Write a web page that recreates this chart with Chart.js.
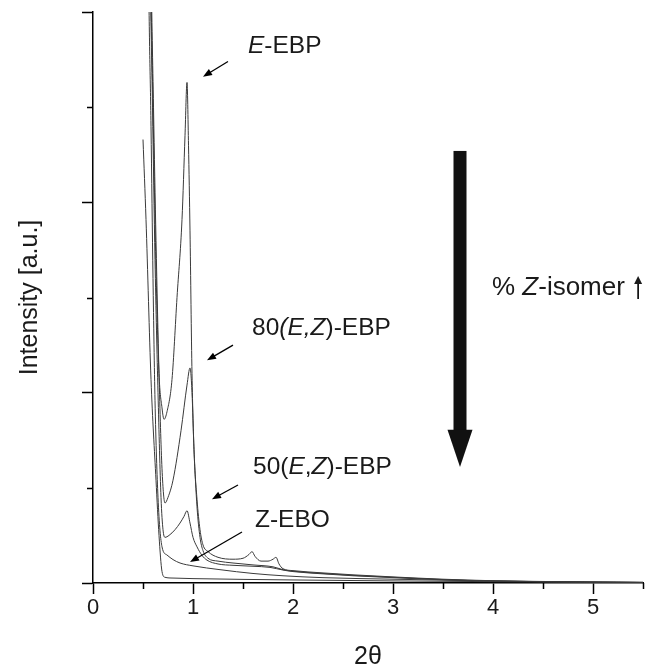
<!DOCTYPE html>
<html>
<head>
<meta charset="utf-8">
<script src="https://cdn.jsdelivr.net/npm/chart.js@4.4.1/dist/chart.umd.min.js"></script>
<style>
  html, body { margin: 0; padding: 0; background: #fff; }
</style>
</head>
<body>
<canvas id="xrdChart" width="654" height="669"></canvas>
<script>
// axis setup
const xMin = 0, xMax = 5.5, xStep = 0.5;
const yMin = 0, yMax = 300, yStep = 100, yMinorStep = 50;

// E-EBP
const eEbpX = [0.56, 0.575, 0.60, 0.63, 0.66, 0.69, 0.71, 0.74, 0.79, 0.84, 0.89, 0.92, 0.94, 0.955, 0.97, 0.99, 1.01, 1.04, 1.07, 1.10, 1.15, 1.25, 1.40, 1.50, 1.56, 1.59, 1.62, 1.68, 1.75, 1.80, 1.83, 1.86, 1.90, 2.00, 2.30, 2.60, 3.00, 3.50, 4.00, 4.50, 5.00, 5.50];
const eEbpY = [420, 330, 250, 165, 110, 92, 86, 90, 107, 150, 191, 235, 263, 230, 185, 110, 70, 44, 28, 20, 16.5, 13.5, 12.5, 13, 15, 16.5, 14, 11.5, 11.5, 12.5, 13.5, 10, 7.5, 6.5, 5.3, 4.3, 3.2, 2, 1.2, 0.8, 0.5, 0.3];

// 80(E,Z)-EBP
const ez80X = [0.565, 0.58, 0.605, 0.63, 0.66, 0.69, 0.72, 0.75, 0.80, 0.88, 0.94, 0.97, 0.99, 1.01, 1.04, 1.07, 1.10, 1.15, 1.25, 1.40, 1.60, 1.80, 1.90, 2.00, 2.30, 2.60, 3.00, 3.50, 4.00, 4.50, 5.00, 5.50];
const ez80Y = [420, 330, 250, 180, 110, 60, 42, 45, 54, 80, 104, 113, 100, 70, 40, 24, 17, 13, 11.5, 10.5, 9.5, 8.5, 7, 6.2, 5, 4, 3, 1.8, 1.1, 0.7, 0.5, 0.3];

// 50(E,Z)-EBP
const ez50X = [0.555, 0.57, 0.595, 0.62, 0.65, 0.68, 0.70, 0.72, 0.76, 0.82, 0.87, 0.91, 0.94, 0.97, 1.00, 1.04, 1.09, 1.14, 1.25, 1.40, 1.60, 1.77, 1.90, 2.00, 2.30, 2.60, 3.00, 3.50, 4.00, 4.50, 5.00, 5.50];
const ez50Y = [420, 330, 250, 170, 100, 45, 28, 24, 25, 28, 31.5, 35, 38, 31.5, 24, 19, 14.5, 12, 10, 9.3, 8.8, 8.2, 6.8, 6, 4.8, 3.8, 2.8, 1.7, 1.0, 0.7, 0.4, 0.3];

// Z-EBO
const zEboX = [0.545, 0.555, 0.58, 0.60, 0.62, 0.65, 0.69, 0.74, 0.80, 0.87, 1.00, 1.27, 1.60, 1.90, 2.30, 3.00, 3.50, 4.00, 4.50, 5.00, 5.50];
const zEboY = [420, 330, 240, 160, 96, 45, 19, 14.7, 12.3, 10.5, 9, 7, 5, 3.8, 2.8, 2, 1.5, 1, 0.7, 0.5, 0.3];

// lowest trace (no label)
const baseX = [0.50, 0.53, 0.58, 0.63, 0.66, 0.69, 0.72, 0.80, 1.00, 1.50, 2.00, 3.00, 4.00, 5.00, 5.50];
const baseY = [233, 191, 107, 54, 25, 6, 3, 2.6, 2.3, 1.9, 1.6, 1.1, 0.7, 0.4, 0.3];

const FONT = '"Liberation Sans", Arial, sans-serif';

function toPoints(xs, ys) {
  return xs.map((x, i) => ({ x: x, y: ys[i] }));
}

function lineSet(label, xs, ys) {
  return {
    label: label,
    data: toPoints(xs, ys),
    borderColor: '#3a3a3a',
    borderWidth: 1,
    pointRadius: 0,
    cubicInterpolationMode: 'monotone',
    fill: false
  };
}

// draw text made of upright / italic pieces
function richText(ctx, x, y, parts, size) {
  let cx = x;
  parts.forEach(p => {
    ctx.font = (p[1] ? 'italic ' : '') + size + 'px ' + FONT;
    ctx.fillText(p[0], cx, y);
    cx += ctx.measureText(p[0]).width;
  });
  return cx;
}

function smallArrow(ctx, x1, y1, x2, y2) {
  const ang = Math.atan2(y2 - y1, x2 - x1);
  const hl = 9, hw = 3.5;
  ctx.beginPath();
  ctx.moveTo(x1, y1);
  ctx.lineTo(x2 - Math.cos(ang) * hl * 0.8, y2 - Math.sin(ang) * hl * 0.8);
  ctx.lineWidth = 1.3;
  ctx.stroke();
  ctx.beginPath();
  ctx.moveTo(x2, y2);
  ctx.lineTo(x2 - Math.cos(ang) * hl + Math.sin(ang) * hw, y2 - Math.sin(ang) * hl - Math.cos(ang) * hw);
  ctx.lineTo(x2 - Math.cos(ang) * hl - Math.sin(ang) * hw, y2 - Math.sin(ang) * hl + Math.cos(ang) * hw);
  ctx.closePath();
  ctx.fill();
}

const isMajor = v => Math.abs(v - Math.round(v)) < 1e-6;

const extrasPlugin = {
  id: 'extras',
  afterDraw(chart) {
    const ctx = chart.ctx;
    const xs = chart.scales.x, ys = chart.scales.y;
    const px = v => xs.getPixelForValue(v);
    const py = v => ys.getPixelForValue(v);
    ctx.save();
    ctx.strokeStyle = '#000';
    ctx.fillStyle = '#000';

    // minor ticks
    ctx.lineWidth = 1.5;
    ctx.beginPath();
    xs.ticks.forEach(t => {
      if (isMajor(t.value)) return;
      const p = Math.round(px(t.value)) + 0.5;
      ctx.moveTo(p, ys.bottom);
      ctx.lineTo(p, ys.bottom + 6);
    });
    for (let v = yMin + yMinorStep; v < yMax; v += yStep) {
      const p = Math.round(py(v)) + 0.5;
      ctx.moveTo(xs.left, p);
      ctx.lineTo(xs.left - 6, p);
    }
    ctx.stroke();

    // labels with arrows
    ctx.textBaseline = 'middle';
    ctx.textAlign = 'left';
    ctx.fillStyle = '#1a1a1a';
    const size = 24.5;
    richText(ctx, px(1.55), py(282), [['E', true], ['-EBP', false]], size);
    richText(ctx, px(1.59), py(134), [['80', false], ['(E,Z', true], [')-EBP', false]], size);
    richText(ctx, px(1.60), py(61), [['50(', false], ['E', true], [',', false], ['Z', true], [')-EBP', false]], size);
    richText(ctx, px(1.62), py(33), [['Z-EBO', false]], size);
    ctx.fillStyle = '#000';
    smallArrow(ctx, px(1.35), py(274), px(1.10), py(266));
    smallArrow(ctx, px(1.40), py(125), px(1.14), py(117));
    smallArrow(ctx, px(1.45), py(51.5), px(1.19), py(44));
    smallArrow(ctx, px(1.49), py(26.8), px(0.97), py(11));

    // big downward arrow
    const ax = px(3.67);
    const top = py(227), headStart = py(80.5), tip = py(61);
    ctx.fillStyle = '#111';
    ctx.fillRect(ax - 6.5, top, 13, headStart - top + 1);
    ctx.beginPath();
    ctx.moveTo(ax - 12.5, headStart);
    ctx.lineTo(ax + 12.5, headStart);
    ctx.lineTo(ax, tip);
    ctx.closePath();
    ctx.fill();

    ctx.fillStyle = '#1a1a1a';
    const endX = richText(ctx, px(3.99), py(155), [['% ', false], ['Z', true], ['-isomer ', false]], 26);
    // thin upward arrow after the text
    const ay = py(155);
    const cx = endX + 6;
    ctx.lineWidth = 1.6;
    ctx.beginPath();
    ctx.moveTo(cx, ay + 11);
    ctx.lineTo(cx, ay - 7);
    ctx.stroke();
    ctx.beginPath();
    ctx.moveTo(cx, ay - 12);
    ctx.lineTo(cx - 4, ay - 4);
    ctx.lineTo(cx + 4, ay - 4);
    ctx.closePath();
    ctx.fill();

    ctx.restore();
  }
};

const ctx = document.getElementById('xrdChart').getContext('2d');

new Chart(ctx, {
  type: 'line',
  data: {
    datasets: [
      lineSet('E-EBP', eEbpX, eEbpY),
      lineSet('80(E,Z)-EBP', ez80X, ez80Y),
      lineSet('50(E,Z)-EBP', ez50X, ez50Y),
      lineSet('Z-EBO', zEboX, zEboY),
      lineSet('base', baseX, baseY)
    ]
  },
  options: {
    responsive: false,
    animation: false,
    layout: { padding: { top: 12, right: 11, left: 0, bottom: 0 } },
    plugins: {
      legend: { display: false },
      tooltip: { enabled: false }
    },
    scales: {
      x: {
        type: 'linear',
        min: xMin,
        max: xMax,
        afterFit: scale => { scale.height = 86; },
        border: { color: '#000', width: 1.5 },
        grid: {
          drawOnChartArea: false,
          drawTicks: true,
          tickLength: 11,
          tickWidth: 1.5,
          tickColor: c => isMajor(c.tick.value) ? '#000' : 'rgba(0,0,0,0)'
        },
        ticks: {
          stepSize: xStep,
          autoSkip: false,
          maxRotation: 0,
          color: '#1a1a1a',
          padding: 1,
          font: { family: FONT, size: 22 },
          callback: v => isMajor(v) ? String(Math.round(v)) : ''
        },
        title: {
          display: true,
          text: '2\u03b8',
          color: '#1a1a1a',
          padding: { top: 0, bottom: 0 },
          font: { family: FONT, size: 25, lineHeight: 0.95 }
        }
      },
      y: {
        min: yMin,
        max: yMax,
        afterFit: scale => { scale.width = 93; },
        border: { color: '#000', width: 1.5 },
        grid: {
          drawOnChartArea: false,
          drawTicks: true,
          tickLength: 11,
          tickWidth: 1.5,
          tickColor: '#000'
        },
        ticks: { stepSize: yStep, display: false },
        title: {
          display: true,
          text: 'Intensity [a.u.]',
          color: '#1a1a1a',
          padding: { top: 15, bottom: 0 },
          font: { family: FONT, size: 25, lineHeight: 1.2 }
        }
      }
    }
  },
  plugins: [extrasPlugin]
});
</script>
</body>
</html>
